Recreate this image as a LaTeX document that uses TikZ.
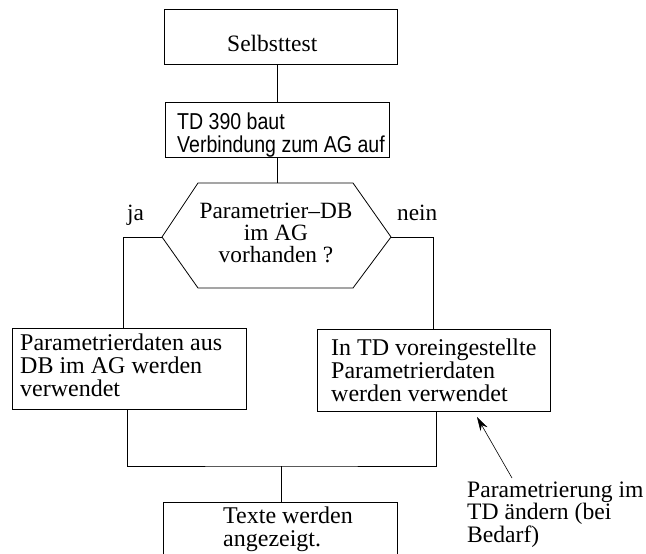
\documentclass[tikz,border=0pt]{standalone}
\usepackage{fontspec}
\setmainfont{Liberation Serif}
\newfontfamily\sansf[FakeStretch=0.85]{Liberation Sans}
\usetikzlibrary{arrows.meta}
\begin{document}
\begin{tikzpicture}[x=1pt,y=-1pt,
  box/.style={draw,line width=0.8pt,inner sep=0pt,outer sep=0pt},
  txt/.style={inner sep=0pt,anchor=base west,align=left,font=\fontsize{24}{23}\selectfont},
  line/.style={line width=0.8pt}]
\clip (0,0) rectangle (646,554);
% boxes
\node[box,minimum width=233pt,minimum height=55pt] (sel) at (280.5,36.5) {};
\node[txt,font=\fontsize{23.5}{23}\selectfont] (selt) at (227,51) {Selbsttest};
\node[box,minimum width=224pt,minimum height=55pt] (td) at (277,129.5) {};
\node[txt,font=\sansf\fontsize{23}{23}\selectfont] (tdt) at (177,152) {TD 390 baut\\Verbindung zum AG auf};
% hexagon
\coordinate (hexL) at (162,237);
\coordinate (hexR) at (391,237);
\coordinate (hexT) at (277,183);
\draw[line] (hexL) -- (198,183) -- (353,183) -- (hexR) -- (353,288) -- (198,288) -- cycle;
\node[txt,align=center,anchor=base,font=\fontsize{23.3}{22}\selectfont] (hext) at (276,262) {Parametrier--DB\\im AG\\vorhanden ?};
\node[txt,font=\fontsize{23.3}{23}\selectfont] (ja) at (127,220) {ja};
\node[txt,font=\fontsize{23.3}{23}\selectfont] (nein) at (397,220) {nein};
% branch boxes
\node[box,minimum width=234pt,minimum height=81pt] (lb) at (129,368.5) {};
\node[txt] (lbt) at (20,396) {Parametrierdaten aus\\DB im AG werden\\verwendet};
\node[box,minimum width=233pt,minimum height=82pt] (rb) at (433.5,370) {};
\node[txt] (rbt) at (331,401) {In TD voreingestellte\\Parametrierdaten\\werden verwendet};
% bottom box
\node[box,minimum width=234pt,minimum height=78pt] (bb) at (280,541) {};
\node[txt] (bbt) at (223,546) {Texte werden\\angezeigt.};
% note
\node[txt,font=\fontsize{23.6}{22.5}\selectfont] (note) at (467,542) {Parametrierung im\\TD ändern (bei\\Bedarf)};
% connectors
\draw[line] (td.north |- sel.south) -- (td.north);
\draw[line] (td.south) -- (hexT);
\draw[line] (hexL) -| ([xshift=-6pt]lb.north);
\draw[line] (hexR) -| (rb.north);
\coordinate (junc) at (281,466);
\draw[line] ([xshift=-2pt]lb.south) |- (junc) -| ([xshift=2.5pt]rb.south);
\draw[line] (junc) -- (bb.north -| junc);
\coordinate (arrtail) at (512,478);
\coordinate (arrtip) at (477,417);
\draw[line width=0.6pt,-{Stealth[length=14pt,width=8pt]}] (arrtail) -- (arrtip);
\end{tikzpicture}
\end{document}
